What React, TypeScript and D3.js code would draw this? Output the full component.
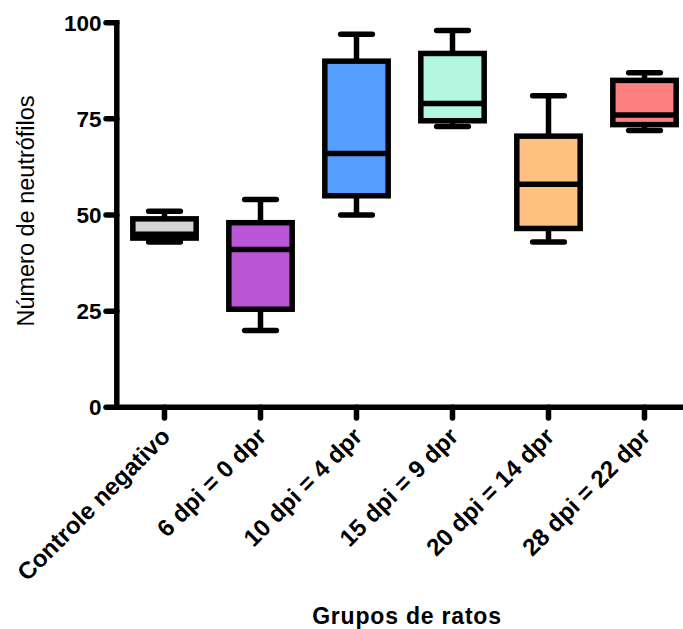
import React from "react";
import * as d3 from "d3";

const categories = [
  "Controle negativo",
  "6 dpi = 0 dpr",
  "10 dpi = 4 dpr",
  "15 dpi = 9 dpr",
  "20 dpi = 14 dpr",
  "28 dpi = 22 dpr",
];
const minValues = [43, 20, 50, 73, 43, 72];
const q1Values = [44, 25.5, 55, 74.5, 46.5, 73.5];
const medianValues = [45, 41, 66, 79, 58, 76];
const q3Values = [49, 48, 90, 92, 70.5, 85];
const maxValues = [51, 54, 97, 98, 81, 87];
const boxColors = ["#d3d3d3", "#ba55d6", "#559eff", "#b4f7e0", "#ffc080", "#ff8080"];
const yTicks = [0, 25, 50, 75, 100];

const W = 683;
const H = 629;
const SW = 5.5;
const FONT = "'Liberation Sans', Arial, Helvetica, sans-serif";

export default function App() {
  const x = d3.scaleBand<string>().domain(categories).range([116.5, 692.5]).padding(0);
  const y = d3.scaleLinear().domain([0, 100]).range([407.3, 22.7]);
  const bw = x.bandwidth();
  const boxW = bw * 0.66;
  const capW = boxW * 0.5;
  const axisX = 116.8;
  const axisY = y(0);

  return (
    <svg
      width={W}
      height={H}
      style={{ position: "absolute", left: 0, top: 0, background: "#fff" }}
      fontFamily={FONT}
    >
      <rect x={0} y={0} width={W} height={H} fill="#fff" />
      {categories.map((c, i) => {
        const cx = (x(c) as number) + bw / 2;
        return (
          <g key={c}>
            {/* whiskers */}
            <line x1={cx} x2={cx} y1={y(q3Values[i])} y2={y(maxValues[i])} stroke="#000" strokeWidth={SW} />
            <line x1={cx} x2={cx} y1={y(q1Values[i])} y2={y(minValues[i])} stroke="#000" strokeWidth={SW} />
            <line x1={cx - capW / 2} x2={cx + capW / 2} y1={y(maxValues[i])} y2={y(maxValues[i])} stroke="#000" strokeWidth={SW} strokeLinecap="round" />
            <line x1={cx - capW / 2} x2={cx + capW / 2} y1={y(minValues[i])} y2={y(minValues[i])} stroke="#000" strokeWidth={SW} strokeLinecap="round" />
            {/* box */}
            <rect
              x={cx - boxW / 2}
              y={y(q3Values[i])}
              width={boxW}
              height={y(q1Values[i]) - y(q3Values[i])}
              fill={boxColors[i]}
              stroke="#000"
              strokeWidth={SW}
            />
            <line x1={cx - boxW / 2} x2={cx + boxW / 2} y1={y(medianValues[i])} y2={y(medianValues[i])} stroke="#000" strokeWidth={SW} />
          </g>
        );
      })}

      {/* Y axis */}
      <line x1={axisX} x2={axisX} y1={y(100)} y2={axisY} stroke="#000" strokeWidth={SW} strokeLinecap="square" />
      {yTicks.map((t) => (
        <g key={t}>
          <line x1={106} x2={axisX} y1={y(t)} y2={y(t)} stroke="#000" strokeWidth={SW} strokeLinecap="round" />
          <text x={101.5} y={y(t) + 8} textAnchor="end" fontSize={22.5} fontWeight="bold" fill="#000">
            {t}
          </text>
        </g>
      ))}

      {/* X axis */}
      <line x1={axisX} x2={W + 10} y1={axisY} y2={axisY} stroke="#000" strokeWidth={SW} strokeLinecap="square" />
      {categories.map((c) => {
        const cx = (x(c) as number) + bw / 2;
        return (
          <g key={c}>
            <line x1={cx} x2={cx} y1={axisY} y2={418} stroke="#000" strokeWidth={SW} strokeLinecap="round" />
            <text
              transform={`translate(${cx + 7},438) rotate(-45)`}
              textAnchor="end"
              fontSize={24}
              fontWeight="bold"
              fill="#000"
            >
              {c}
            </text>
          </g>
        );
      })}

      {/* Axis titles */}
      <text
        transform={`translate(33.5,211) rotate(-90)`}
        textAnchor="middle"
        fontSize={23.5}
        fill="#000"
      >
        Número de neutrófilos
      </text>
      <text x={407} y={624} textAnchor="middle" fontSize={23} fontWeight="bold" letterSpacing={0.8} fill="#000">
        Grupos de ratos
      </text>
    </svg>
  );
}
